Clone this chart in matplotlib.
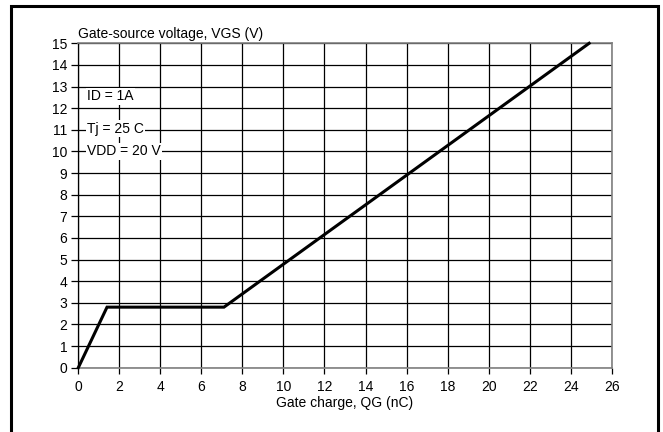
import matplotlib.pyplot as plt
from matplotlib.patches import Rectangle

# gate charge curve
qg = [0, 1.4, 7.1, 24.9]
vgs = [0, 2.8, 2.8, 15]

notes = ["ID = 1A", "Tj = 25 C", "VDD = 20 V"]
note_y = [12.55, 11.05, 10]

plt.rcParams['font.family'] = ['Liberation Sans', 'DejaVu Sans']
plt.rcParams['font.size'] = 10

fig = plt.figure(figsize=(6.63, 4.32), dpi=100)
ax = fig.add_axes([78.3 / 663, 1 - 367.7 / 432, 533.4 / 663, 324.4 / 432])

ax.plot(qg, vgs, color='black', linewidth=2.2, solid_joinstyle='miter', zorder=3, clip_on=False)

ax.set_xlim(0, 26)
ax.set_ylim(0, 15)
ax.set_xticks(range(0, 27, 2))
ax.set_yticks(range(0, 16))
ax.grid(True, color='black', linewidth=0.9)
ax.set_axisbelow(True)
ax.tick_params(axis='y', direction='out', length=5, width=0.9, color='black', pad=3)
ax.tick_params(axis='x', direction='out', length=4, width=0.9, color='black', pad=5)

for side in ['top', 'right', 'bottom']:
    ax.spines[side].set_color('#808080')
    ax.spines[side].set_linewidth(1.2)
ax.spines['left'].set_color('black')
ax.spines['left'].set_linewidth(0.9)

for txt, y in zip(notes, note_y):
    ax.text(0.42, y, txt, ha='left', va='center', zorder=4,
            bbox=dict(facecolor='white', edgecolor='none', pad=1.0))

fig.text(78 / 663, 1 - 38 / 432, "Gate-source voltage, VGS (V)", ha='left', va='baseline')
fig.text(345 / 663, 1 - 406.5 / 432, "Gate charge, QG (nC)", ha='center', va='baseline')

# outer frame
fig.patches.append(Rectangle((11 / 663, -0.02), (658 - 11) / 663, 1.02 - 6 / 432,
                             transform=fig.transFigure, fill=False,
                             edgecolor='black', linewidth=2.2))

fig.savefig('out.png', dpi=100)
